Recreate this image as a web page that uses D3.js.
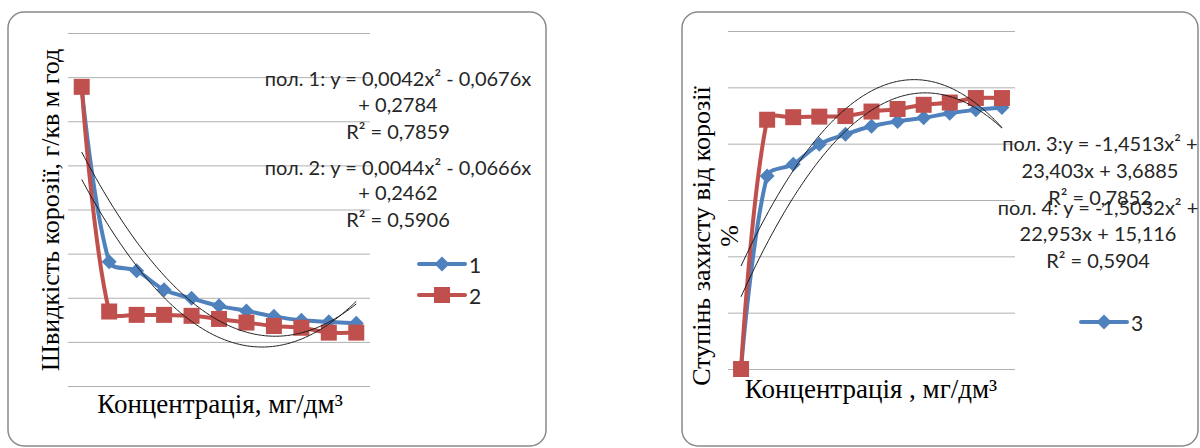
<!DOCTYPE html>
<html>
<head>
<meta charset="utf-8">
<script src="https://cdn.jsdelivr.net/npm/d3@7"></script>
<style>
  html, body { margin: 0; padding: 0; background: #fff; }
  svg { display: block; }
</style>
</head>
<body>
<svg id="chart" width="1200" height="448"></svg>
<script>
// Concentration steps (x categories, shared by both panels)
const categories = [1, 2, 3, 4, 5, 6, 7, 8, 9, 10, 11];

// Corrosion rate, g/(m² h)
const series1 = [0.288, 0.0907, 0.0805, 0.059, 0.0493, 0.0408, 0.0351, 0.0289, 0.0244, 0.0227, 0.021];
const series2 = [0.289, 0.0344, 0.0306, 0.0306, 0.0295, 0.026, 0.0219, 0.018, 0.016, 0.0105, 0.0105];

// Degree of corrosion protection, %
const series3 = [0, 68.5, 72.7, 79.8, 83.3, 86.2, 87.9, 89.2, 90.8, 92.0, 92.8];
const series4 = [0, 88.5, 89.4, 89.6, 89.8, 91.4, 92.3, 93.8, 94.6, 96.2, 96.2];

// Gridline values
const rateTicks = [-0.05, 0, 0.05, 0.1, 0.15, 0.2, 0.25, 0.3, 0.35];
const protectionTicks = [0, 20, 40, 60, 80, 100, 120];

// Polynomial trendline coefficients [a, b, c] for y = a x² + b x + c
const trend1 = [0.0042, -0.0676, 0.2784];
const trend2 = [0.0044, -0.0666, 0.2462];
const trend3 = [-1.4513, 23.403, 3.6885];
const trend4 = [-1.5032, 22.953, 15.116];

// Trendline labels
const label1 = ["пол. 1: y = 0,0042x² - 0,0676x", "+ 0,2784", "R² = 0,7859"];
const label2 = ["пол. 2: y = 0,0044x² - 0,0666x", "+ 0,2462", "R² = 0,5906"];
const label3 = ["пол. 3:y = -1,4513x² +", "23,403x + 3,6885", "R² = 0,7852"];
const label4 = ["пол. 4: y = -1,5032x² +", "22,953x + 15,116", "R² = 0,5904"];

// Axis titles and legend names
const rateTitle = ["Швидкість корозії, г/кв м год"];
const protectionTitle = ["Ступінь захисту від корозії", "%"];
const xTitle1 = "Концентрація, мг/дм³";
const xTitle2 = "Концентрація , мг/дм³";
const legendNames = ["1", "2", "3"];

const BLUE = "#4f81bd";
const RED = "#c0504d";
const SERIF = "'Liberation Serif', 'Times New Roman', serif";
const SANS = "Lato, 'Open Sans', sans-serif";

const svg = d3.select("#chart");

function diamondPath(r) {
  return `M0,${-r}L${r},0L0,${r}L${-r},0Z`;
}
const SQUARE = "M-8,-8H8V8H-8Z";

// Smoothed line through screen points: cubic Bézier segments whose
// handles follow the neighbouring chord and are weighted by segment
// length, so short segments next to long ones do not overshoot.
function smoothPath(pts) {
  const p = d3.path();
  const n = pts.length;
  const dist = (a, b) => Math.hypot(b[0] - a[0], b[1] - a[1]);
  const tangent = i => {
    const a = pts[Math.max(i - 1, 0)];
    const b = pts[Math.min(i + 1, n - 1)];
    return [b[0] - a[0], b[1] - a[1]];
  };
  p.moveTo(pts[0][0], pts[0][1]);
  for (let i = 0; i < n - 1; i++) {
    const p0 = pts[i], p1 = pts[i + 1];
    const d = dist(p0, p1);
    const dPrev = i > 0 ? dist(pts[i - 1], p0) : d;
    const dNext = i + 2 < n ? dist(p1, pts[i + 2]) : d;
    const t0 = tangent(i), t1 = tangent(i + 1);
    const s0 = i > 0 ? d / (dPrev + d) / 3 : 0;
    const s1 = i + 2 < n ? d / (d + dNext) / 3 : 0;
    p.bezierCurveTo(
      p0[0] + t0[0] * s0, p0[1] + t0[1] * s0,
      p1[0] - t1[0] * s1, p1[1] - t1[1] * s1,
      p1[0], p1[1]
    );
  }
  return p.toString();
}

function drawPanel(cfg) {
  const g = svg.append("g");

  // rounded chart frame
  g.append("rect")
    .attr("x", cfg.frame[0]).attr("y", cfg.frame[1])
    .attr("width", cfg.frame[2]).attr("height", cfg.frame[3])
    .attr("rx", 16).attr("ry", 16)
    .attr("fill", "#fff").attr("stroke", "#8a8a8a").attr("stroke-width", 1.5);

  const x = d3.scaleLinear()
    .domain([0.5, categories.length + 0.5])
    .range([cfg.plot.left, cfg.plot.right]);
  const y = d3.scaleLinear()
    .domain(cfg.yDomain)
    .range([cfg.plot.bottom, cfg.plot.top]);

  // horizontal gridlines
  const axis = d3.axisLeft(y)
    .tickValues(cfg.ticks)
    .tickSize(-(cfg.plot.right - cfg.plot.left))
    .tickFormat("");
  const ga = g.append("g")
    .attr("transform", `translate(${cfg.plot.left},0)`)
    .call(axis);
  ga.select(".domain").remove();
  ga.selectAll(".tick line").attr("stroke", "#b0b0b0").attr("stroke-width", 1);

  // data series
  cfg.series.forEach(s => {
    const pts = s.values.map((v, i) => [x(categories[i]), y(v)]);
    g.append("path")
      .attr("d", smoothPath(pts))
      .attr("fill", "none")
      .attr("stroke", s.color)
      .attr("stroke-width", 4)
      .attr("stroke-linejoin", "round");
    g.append("g").selectAll("path")
      .data(s.values)
      .join("path")
      .attr("transform", (d, i) => `translate(${x(categories[i])},${y(d)})`)
      .attr("d", s.marker === "diamond" ? diamondPath(7.5) : SQUARE)
      .attr("fill", s.color);
  });

  // polynomial trendlines
  const trendLine = d3.line().x(d => x(d[0])).y(d => y(d[1]));
  cfg.trends.forEach(c => {
    const xs = d3.range(categories[0], categories[categories.length - 1] + 0.001, 0.05);
    const pts = xs.map(v => [v, c[0] * v * v + c[1] * v + c[2]]);
    g.append("path")
      .datum(pts)
      .attr("d", trendLine)
      .attr("fill", "none")
      .attr("stroke", "#1a1a1a")
      .attr("stroke-width", 1);
  });

  // trendline equation labels
  cfg.labels.forEach(lb => {
    lb.lines.forEach((t, i) => {
      g.append("text")
        .attr("x", lb.x).attr("y", lb.ys[i])
        .attr("text-anchor", "middle")
        .attr("dominant-baseline", "central")
        .attr("font-family", SANS)
        .attr("font-size", 20)
        .attr("fill", "#262626")
        .text(t);
    });
  });

  // legend
  cfg.legend.forEach(l => {
    g.append("line")
      .attr("x1", l.x).attr("x2", l.x + 46)
      .attr("y1", l.y).attr("y2", l.y)
      .attr("stroke", l.color).attr("stroke-width", 4).attr("stroke-linecap", "round");
    g.append("path")
      .attr("transform", `translate(${l.x + 23},${l.y})`)
      .attr("d", l.marker === "diamond" ? diamondPath(7.5) : SQUARE)
      .attr("fill", l.color);
    g.append("text")
      .attr("x", l.x + 50).attr("y", l.y)
      .attr("dominant-baseline", "central")
      .attr("font-family", SANS)
      .attr("font-size", 21)
      .attr("fill", "#262626")
      .text(l.name);
  });

  // y-axis title (rotated)
  cfg.yTitle.lines.forEach((t, i) => {
    g.append("text")
      .attr("transform", `translate(${cfg.yTitle.x + i * 28},${cfg.yTitle.y}) rotate(-90)`)
      .attr("text-anchor", "middle")
      .attr("font-family", SERIF)
      .attr("font-size", 26)
      .attr("fill", "#000")
      .text(t);
  });

  // x-axis title
  g.append("text")
    .attr("x", cfg.xTitle.x).attr("y", cfg.xTitle.y)
    .attr("text-anchor", "middle")
    .attr("font-family", SERIF)
    .attr("font-size", 27)
    .attr("fill", "#000")
    .text(cfg.xTitle.text);
}

drawPanel({
  frame: [8, 12, 538, 434],
  plot: { left: 68, right: 370, top: 33, bottom: 386 },
  yDomain: [-0.05, 0.35],
  ticks: rateTicks,
  series: [
    { values: series1, color: BLUE, marker: "diamond" },
    { values: series2, color: RED, marker: "square" }
  ],
  trends: [trend1, trend2],
  labels: [
    { lines: label1, x: 398, ys: [78, 104, 131] },
    { lines: label2, x: 398, ys: [167, 192, 219] }
  ],
  legend: [
    { name: legendNames[0], color: BLUE, marker: "diamond", x: 419, y: 264 },
    { name: legendNames[1], color: RED, marker: "square", x: 419, y: 295 }
  ],
  yTitle: { lines: rateTitle, x: 59, y: 210 },
  xTitle: { text: xTitle1, x: 220, y: 413 }
});

drawPanel({
  frame: [682, 12, 516, 434],
  plot: { left: 728, right: 1015, top: 31, bottom: 369 },
  yDomain: [0, 120],
  ticks: protectionTicks,
  series: [
    { values: series3, color: BLUE, marker: "diamond" },
    { values: series4, color: RED, marker: "square" }
  ],
  trends: [trend3, trend4],
  labels: [
    { lines: label3, x: 1100, ys: [143, 170, 197] },
    { lines: label4, x: 1098, ys: [207, 233, 260] }
  ],
  legend: [
    { name: legendNames[2], color: BLUE, marker: "diamond", x: 1081, y: 322 }
  ],
  yTitle: { lines: protectionTitle, x: 710, y: 236 },
  xTitle: { text: xTitle2, x: 871, y: 398 }
});
</script>
</body>
</html>
